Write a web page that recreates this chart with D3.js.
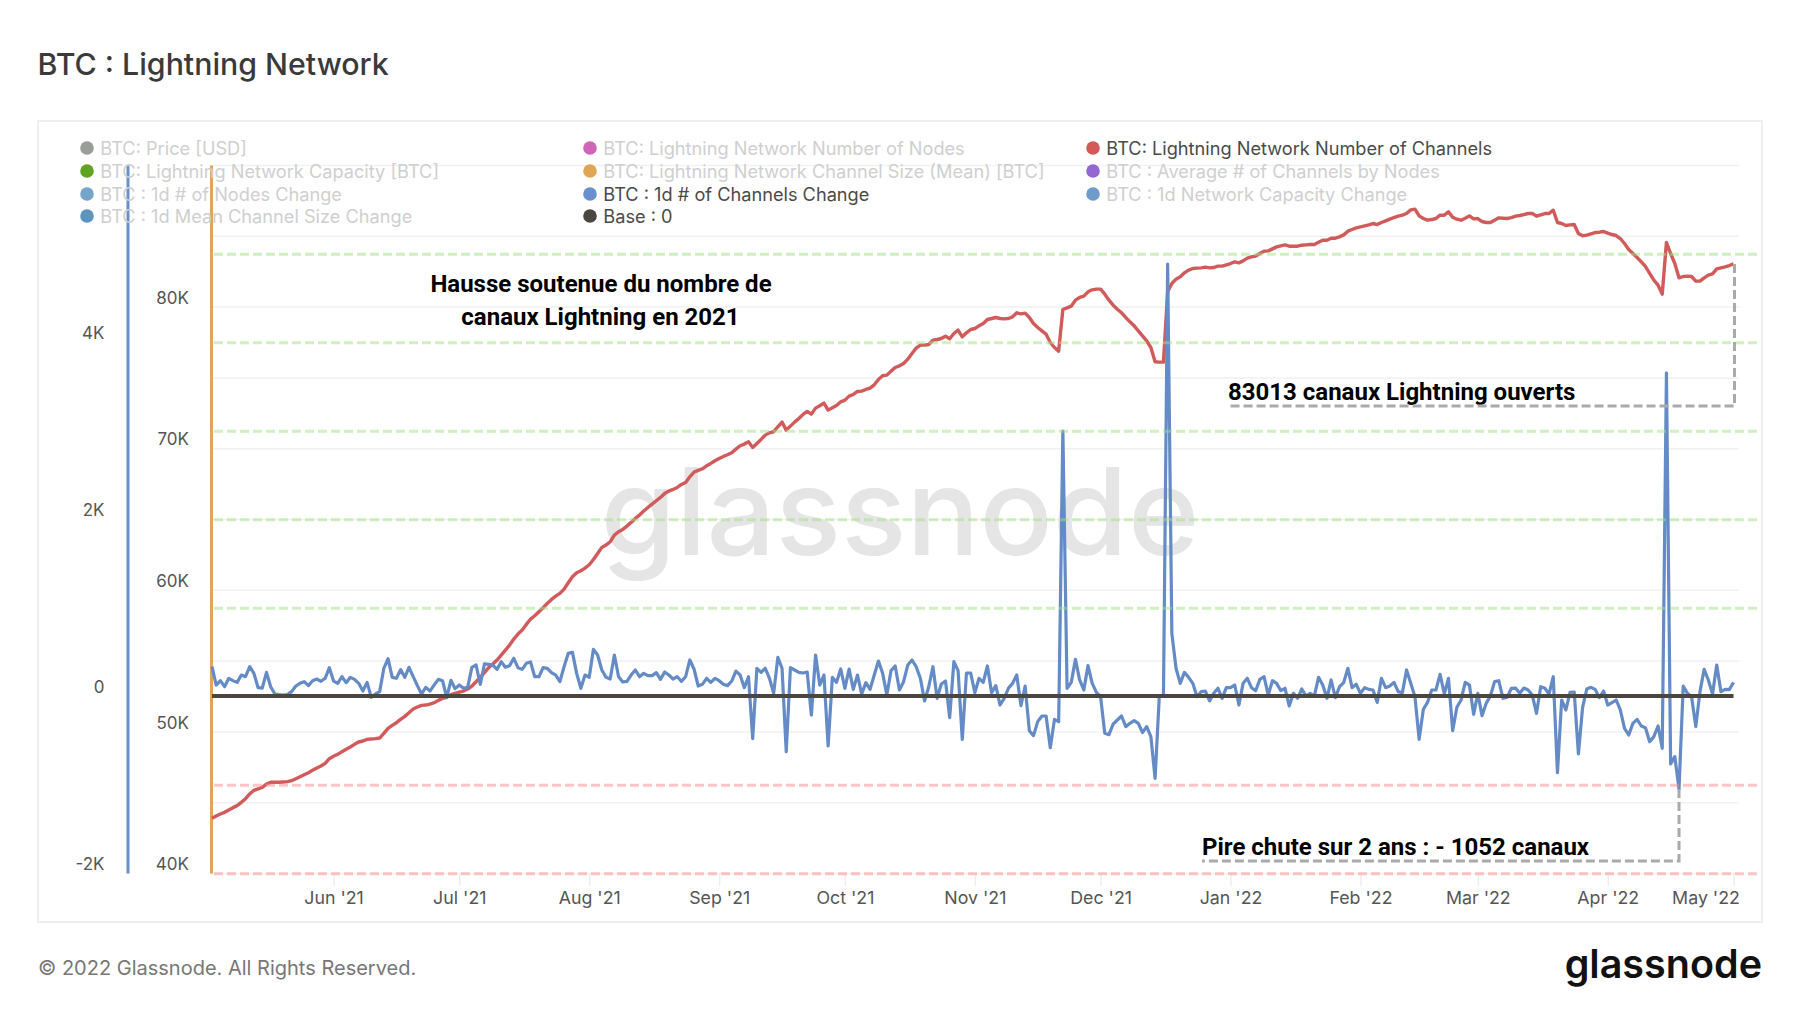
<!DOCTYPE html>
<html>
<head>
<meta charset="utf-8">
<script src="https://cdn.jsdelivr.net/npm/d3@7"></script>
<style>
  html, body { margin: 0; padding: 0; background: #fff; }
  svg { display: block; font-family: Inter, "Noto Sans", sans-serif; }
</style>
</head>
<body>
<svg id="chart" width="1800" height="1013"></svg>
<script>
// one value per day, starting on firstDay
const firstDay = new Date(2021, 4, 3)

const channels = [
  43862,44027,44168,44286,44451,44615,44757,44992,45250,45580,
  45839,45933,46050,46286,46404,46404,46404,46427,46451,46521,
  46662,46803,46945,47086,47250,47415,47557,47745,48074,48239,
  48380,48568,48733,48897,49085,49250,49321,49439,49462,49486,
  49533,49862,50215,50427,50615,50850,51062,51321,51580,51721,
  51839,51862,51933,52027,52192,52333,52403,52592,52686,52780,
  52851,52992,53204,53509,53815,54145,54498,54757,55039,55392,
  55745,56098,56521,56874,57157,57557,57933,58168,58451,58733,
  59039,59321,59557,59745,60051,60498,60922,61204,61345,61533,
  61768,62145,62569,
  62995,63159,63395,63865,64101,64266,64501,64760,65042,65277,
  65560,65818,66054,66289,66524,66807,66971,67089,67230,67442,
  67583,67983,68313,68430,68548,68760,68924,69113,69278,69419,
  69536,69677,69936,70172,70289,70454,70054,70336,70619,70924,
  71089,71160,71513,71842,71277,71560,71842,72101,72383,72595,
  72407,72830,72995,73183,72689,72854,73019,73277,73395,73677,
  73795,74007,74030,74148,74242,74477,74854,75113,75160,75442,
  75701,75819,75983,76289,76689,77066,77278,77278,77325,77631,
  77678,77748,77913,77725,78101,78336,77866,78148,78383,78454,
  78642,78807,79089,79160,79231,79160,
  79137,79161,79278,79561,79490,79537,79231,78808,78525,78290,
  78055,77466,77113,76855,79796,79914,80031,80455,80643,80737,
  81043,81184,81231,81231,80878,80455,80102,79819,79561,79231,
  78925,78643,78290,77937,77584,77113,76102,76078,76078,81043,
  81631,81937,82102,82384,82572,82690,82714,82737,82784,82737,
  82761,82855,82855,82949,83043,83161,83090,83231,83420,83514,
  83561,83749,83914,83937,84078,84220,84290,84361,84267,84267,
  84267,84337,84361,84384,84384,84549,84690,84690,84831,84831,
  84925,85067,85325,85443,85561,85631,85702,85773,85867,85796,
  85937,86055,86173,86290,86384,
  86455,86573,86832,86879,86408,86220,86102,86149,86220,86455,
  86455,86691,86314,86173,86102,86243,86408,86196,86220,86008,
  85938,85938,86102,86267,86243,86220,86290,86385,86432,86502,
  86573,86573,86385,86479,86573,86573,86808,85938,85867,85726,
  85773,85796,85161,84996,85043,85138,85232,85255,85302,85185,
  85090,85020,84808,84455,84032,83749,83467,83161,82832,82338,
  81867,81514,80879,84526,83749,83043,82032,82126,82149,82126,
  81796,81796,82032,82220,82314,82667,82738,82808,82902,83013
]

const channelsChange = [
  331,124,173,105,200,173,154,237,218,331,
  256,94,90,267,105,23,15,11,15,49,
  113,143,162,117,173,192,166,200,320,169,
  143,218,151,211,188,143,56,154,-15,23,
  49,313,422,211,200,298,211,324,218,117,
  23,98,56,124,188,173,-19,177,83,124,
  87,98,324,350,132,362,358,350,301,388,
  324,343,426,320,301,369,384,218,218,320,
  313,264,237,162,331,482,493,256,87,237,
  211,527,463,
  294,211,192,463,218,158,166,237,294,218,
  256,230,230,264,188,271,237,192,218,166,
  218,407,305,113,132,200,154,200,173,132,
  117,169,282,237,94,218,-482,313,267,313,
  200,30,437,313,-629,320,294,267,260,271,
  -215,463,124,237,-565,211,154,305,87,305,
  75,237,23,151,75,237,395,256,11,286,
  339,68,162,350,407,331,200,-56,105,331,
  -26,136,169,-245,388,286,-490,260,260,38,
  200,154,339,38,117,-102,
  -26,87,143,237,-109,113,-392,-448,-290,-226,
  -226,-584,-264,-290,2994,87,154,414,181,68,
  343,143,41,-8,-422,-437,-316,-271,-226,-346,
  -309,-279,-309,-414,-346,-459,-930,-8,0,4881,
  708,313,143,267,211,143,-8,49,56,-56,
  30,87,-26,94,94,124,-102,143,200,94,
  60,188,218,11,173,143,60,87,-113,30,
  -26,79,0,30,0,211,124,-26,181,-19,
  105,151,313,94,132,30,94,75,68,-72,
  200,94,113,154,49,
  38,294,143,-8,-490,-151,-72,68,68,245,
  23,200,-392,-128,-45,154,124,-207,30,-222,
  -83,0,162,173,-26,-15,87,90,30,90,
  68,11,-196,105,87,23,218,-866,-45,-158,
  41,45,-655,-128,79,98,75,-19,56,-102,
  -75,-45,-158,-365,-441,-309,-264,-339,-358,-516,
  -459,-339,-591,3650,-768,-685,-1052,113,30,-8,
  -346,49,301,181,23,350,49,75,72,154
]

const baseline = [0, 0]

const legendNames = [
  "BTC: Price [USD]", "BTC: Lightning Network Capacity [BTC]", "BTC : 1d # of Nodes Change", "BTC : 1d Mean Channel Size Change",
  "BTC: Lightning Network Number of Nodes", "BTC: Lightning Network Channel Size (Mean) [BTC]", "BTC : 1d # of Channels Change", "Base : 0",
  "BTC: Lightning Network Number of Channels", "BTC : Average # of Channels by Nodes", "BTC : 1d Network Capacity Change"
]
const legendColors = [
  "#9b9d98", "#5fa323", "#74a5cb", "#5b95bd",
  "#cf65b6", "#e0a653", "#6a90cc", "#4b4740",
  "#d45a5a", "#9468d2", "#6f9ccb"
]
const legendActive = [false, false, false, false, false, false, true, true, true, false, false]

const channelTicks = [40000, 50000, 60000, 70000, 80000]
const changeTicks = [-2000, 0, 2000, 4000]
const greenLevels = [1000, 2000, 3000, 4000, 5000]
const redLevels = [-2000, -1000]

const svg = d3.select("#chart")

// plot box
const plotLeft = 212, plotRight = 1739, plotTop = 165, plotBottom = 873

const days = d3.range(channels.length).map(i => d3.timeDay.offset(firstDay, i))
const lastDay = days[days.length - 1]

const x = d3.scaleTime().domain([firstDay, lastDay]).range([plotLeft, 1733.5])
const yChannels = d3.scaleLinear().domain([40000, 90000]).range([plotBottom, plotTop])
const yChange = d3.scaleLinear().domain([-2000, 6000]).range([plotBottom, plotTop])

svg.append("text")
  .attr("x", 37.5).attr("y", 75)
  .attr("font-size", 30.3).attr("font-weight", 500).attr("fill", "#3a3a3a")
  .text("BTC : Lightning Network")

svg.append("rect")
  .attr("x", 38).attr("y", 121).attr("width", 1724).attr("height", 801)
  .attr("fill", "none").attr("stroke", "#e9e9e9").attr("stroke-width", 1.5)

// horizontal grid, one line every 1/10 of the box
svg.append("g").selectAll("line")
  .data(d3.range(0, 11))
  .join("line")
  .attr("x1", plotLeft).attr("x2", plotRight)
  .attr("y1", d => plotTop + 0.5 + d * (plotBottom - plotTop) / 10)
  .attr("y2", d => plotTop + 0.5 + d * (plotBottom - plotTop) / 10)
  .attr("stroke", "#f1f1f1").attr("stroke-width", 1.5)

svg.append("text")
  .attr("x", 900).attr("y", 555)
  .attr("text-anchor", "middle")
  .attr("font-size", 121.5).attr("font-weight", 500).attr("fill", "#e5e5e5")
  .text("glassnode")

// x axis
const monthTicks = d3.timeMonth.range(new Date(2021, 5, 1), d3.timeDay.offset(lastDay, 1))
const xAxis = svg.append("g")
  .attr("transform", "translate(0," + plotBottom + ")")
  .call(d3.axisBottom(x).tickValues(monthTicks).tickFormat(d3.timeFormat("%b '%y")).tickSize(13).tickPadding(5))
xAxis.select(".domain").remove()
xAxis.selectAll("line").attr("stroke", "#eeeeee").attr("stroke-width", 1.5)
xAxis.selectAll("text")
  .attr("font-family", "Inter").attr("font-size", 17.8).attr("fill", "#555")
  .attr("dx", d => d.getTime() == monthTicks[monthTicks.length - 1].getTime() ? -28 : 0)

// left axes
function leftAxis(scale, ticks, xPos, padding, color) {
  const fmt = d => d == 0 ? "0" : (d / 1000) + "K"
  const ax = svg.append("g")
    .attr("transform", "translate(" + xPos + ",0)")
    .call(d3.axisLeft(scale).tickValues(ticks).tickFormat(fmt).tickSize(0).tickPadding(padding))
  ax.select(".domain").attr("stroke", color).attr("stroke-width", 3)
  ax.selectAll("text")
    .attr("font-family", "Inter").attr("font-size", 17).attr("fill", "#555")
    .attr("dy", "-0.2em")
}
leftAxis(yChange, changeTicks, 127.5, 23, "#6a90cc")
leftAxis(yChannels, channelTicks, 211, 22, "#e0a653")

// series
const channelsLine = d3.line().x((d, i) => x(days[i])).y(d => yChannels(d))
const changeLine = d3.line().x((d, i) => x(days[i])).y(d => yChange(d))

svg.append("path").datum(channels)
  .attr("d", channelsLine)
  .attr("fill", "none").attr("stroke", "#d15a5a").attr("stroke-width", 3.4)
  .attr("stroke-linejoin", "round")

svg.append("path").datum(channelsChange)
  .attr("d", changeLine)
  .attr("fill", "none").attr("stroke", "#648bc6").attr("stroke-width", 3.2)
  .attr("stroke-linejoin", "round")

svg.append("path").datum(baseline)
  .attr("d", d3.line().x((d, i) => x(i == 0 ? firstDay : lastDay)).y(d => yChange(d)))
  .attr("fill", "none").attr("stroke", "#4b4740").attr("stroke-width", 4)

// reference lines put on top of the chart
function refLines(levels, color) {
  svg.append("g").selectAll("line")
    .data(levels)
    .join("line")
    .attr("x1", plotLeft + 2).attr("x2", 1759)
    .attr("y1", d => yChange(d) + 0.8).attr("y2", d => yChange(d) + 0.8)
    .attr("stroke", color).attr("stroke-width", 3).attr("stroke-dasharray", "9 4")
}
refLines(greenLevels, "rgba(160,225,130,.5)")
refLines(redLevels, "rgba(255,140,140,.5)")

// legend, 4 rows per column
const legendCols = [87, 590, 1093]
const legendRows = [148, 171, 194, 216]
const legendCount = [0, 4, 8]
const legend = svg.append("g").selectAll("g")
  .data(legendNames)
  .join("g")
  .attr("transform", (d, i) => {
    const col = i < 4 ? 0 : i < 8 ? 1 : 2
    return "translate(" + legendCols[col] + "," + legendRows[i - legendCount[col]] + ")"
  })
legend.append("circle")
  .attr("r", 6.8)
  .attr("fill", (d, i) => legendColors[i])
legend.append("text")
  .attr("x", 13.3).attr("y", 6.5)
  .attr("font-size", 18.2)
  .attr("fill", (d, i) => legendActive[i] ? "#4a4a4a" : "#cfcfcf")
  .text(d => d)

// annotations
function note(txt, xPos, yPos, anchor) {
  svg.append("text")
    .attr("x", xPos).attr("y", yPos)
    .attr("text-anchor", anchor)
    .attr("font-family", "Roboto").attr("font-weight", 700).attr("font-size", 24)
    .attr("fill", "#000")
    .text(txt)
}
note("Hausse soutenue du nombre de", 601, 292, "middle")
note("canaux Lightning en 2021", 600.5, 325, "middle")
note("83013 canaux Lightning ouverts", 1228, 400, "start")
note("Pire chute sur 2 ans : - 1052 canaux", 1202, 855, "start")

const lastX = x(lastDay) + 1
const lowDay = days[channelsChange.indexOf(-1052)]
const guide = d3.line()
svg.append("path")
  .attr("d", guide([[lastX, yChannels(83013)], [lastX, 406], [1229, 406]]))
  .attr("fill", "none").attr("stroke", "#aaaaaa").attr("stroke-width", 3).attr("stroke-dasharray", "9 4")
svg.append("path")
  .attr("d", guide([[x(lowDay), yChange(-1052)], [x(lowDay), 861], [1202, 861]]))
  .attr("fill", "none").attr("stroke", "#aaaaaa").attr("stroke-width", 3).attr("stroke-dasharray", "9 4")

// footer
svg.append("text")
  .attr("x", 38).attr("y", 975)
  .attr("font-size", 20).attr("fill", "#777")
  .text("© 2022 Glassnode. All Rights Reserved.")

svg.append("text")
  .attr("x", 1762).attr("y", 978)
  .attr("text-anchor", "end")
  .attr("font-size", 39.5).attr("font-weight", 600).attr("fill", "#111")
  .text("glassnode")
</script>
</body>
</html>
